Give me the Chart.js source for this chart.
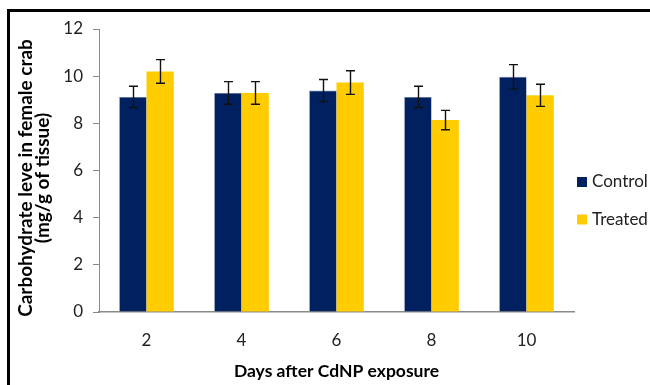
<!DOCTYPE html>
<html>
<head>
<meta charset="utf-8">
<script src="https://cdn.jsdelivr.net/npm/chart.js@4"></script>
<style>
  html, body { margin: 0; padding: 0; background: #fff; overflow: hidden; }
  #wrap { position: relative; width: 650px; height: 385px; }
</style>
</head>
<body>
<div id="wrap"><canvas id="c" width="650" height="385"></canvas></div>
<script>
const categories = ['2', '4', '6', '8', '10'];
const seriesNames = ['Control', 'Treated'];
const controlValues = [9.12, 9.29, 9.39, 9.12, 9.97];
const treatedValues = [10.2, 9.29, 9.73, 8.14, 9.19];
const controlErrors = [0.45, 0.48, 0.47, 0.45, 0.52];
const treatedErrors = [0.50, 0.48, 0.50, 0.41, 0.47];
const yTicks = [0, 2, 4, 6, 8, 10, 12];
const xTitle = 'Days after CdNP exposure';
const yTitleLines = ['Carbohydrate leve in female crab', '(mg/g of tissue)'];

const FONT = 'Lato, "Open Sans", sans-serif';
const AXIS = '#8a8a8a';

const errorBars = {
  id: 'errorBars',
  afterDatasetsDraw(chart) {
    const ctx = chart.ctx;
    const ys = chart.scales.y;
    ctx.save();
    ctx.strokeStyle = '#111';
    ctx.lineWidth = 1.4;
    chart.data.datasets.forEach((ds, i) => {
      const meta = chart.getDatasetMeta(i);
      meta.data.forEach((bar, j) => {
        const v = ds.data[j], e = ds.errors[j];
        const x = Math.round(bar.x) + 0.5;
        const yt = ys.getPixelForValue(v + e);
        const yb = ys.getPixelForValue(v - e);
        ctx.beginPath();
        ctx.moveTo(x, yt); ctx.lineTo(x, yb);
        ctx.moveTo(x - 4.5, yt); ctx.lineTo(x + 4.5, yt);
        ctx.moveTo(x - 4.5, yb); ctx.lineTo(x + 4.5, yb);
        ctx.stroke();
      });
    });
    ctx.restore();
  }
};

const decorations = {
  id: 'decorations',
  afterDraw(chart) {
    const ctx = chart.ctx;
    ctx.save();
    // frame
    ctx.strokeStyle = '#000';
    ctx.lineWidth = 3;
    ctx.beginPath();
    ctx.moveTo(8.5, 385); ctx.lineTo(8.5, 10.5); ctx.lineTo(650, 10.5);
    ctx.stroke();
    // y title
    ctx.fillStyle = '#000';
    ctx.font = 'bold 19px ' + FONT;
    ctx.textAlign = 'center';
    ctx.textBaseline = 'middle';
    ctx.translate(26, 178);
    ctx.rotate(-Math.PI / 2);
    ctx.fillText(yTitleLines[0], 0, 0);
    ctx.fillText(yTitleLines[1], 0, 16.5);
    ctx.restore();
    // legend
    ctx.save();
    ctx.font = '17px ' + FONT;
    ctx.textAlign = 'left';
    ctx.textBaseline = 'middle';
    chart.data.datasets.forEach((ds, i) => {
      const cy = 182 + i * 37.5;
      ctx.fillStyle = ds.backgroundColor;
      ctx.fillRect(577, cy - 5, 10, 10);
      ctx.fillStyle = '#222';
      ctx.fillText(ds.label, 592, cy);
    });
    ctx.restore();
  }
};

new Chart(document.getElementById('c'), {
  type: 'bar',
  data: {
    labels: categories,
    datasets: [
      { label: seriesNames[0], data: controlValues, errors: controlErrors,
        backgroundColor: '#002060', borderColor: '#6f84a8', borderWidth: {left: 0.6, top: 0.6, right: 0, bottom: 0} },
      { label: seriesNames[1], data: treatedValues, errors: treatedErrors,
        backgroundColor: '#ffcc00', borderWidth: 0 }
    ]
  },
  options: {
    responsive: false,
    animation: false,
    devicePixelRatio: 1,
    layout: { padding: { top: 29, right: 76, bottom: 0, left: 0 } },
    datasets: { bar: { categoryPercentage: 0.575, barPercentage: 1.0 } },
    plugins: { legend: { display: false }, tooltip: { enabled: false } },
    scales: {
      x: {
        grid: { display: false, drawTicks: false },
        border: { display: true, color: AXIS, width: 1.5 },
        ticks: { color: '#222', font: { family: FONT, size: 17 }, padding: 18 },
        title: { display: true, text: xTitle, color: '#000', font: { family: FONT, size: 17.5, weight: 'bold' }, padding: { top: 0, bottom: 3 } },
        afterFit(scale) { scale.height = 73; }
      },
      y: {
        min: 0, max: 12,
        afterBuildTicks(scale) { scale.ticks = yTicks.map(v => ({ value: v })); },
        grid: { display: true, drawOnChartArea: false, drawTicks: true, tickLength: 6, color: AXIS, lineWidth: 1 },
        border: { display: true, color: AXIS, width: 1 },
        ticks: { color: '#222', font: { family: FONT, size: 17 }, padding: 10 },
        afterFit(scale) { scale.width = 99; }
      }
    }
  },
  plugins: [errorBars, decorations]
});
</script>
</body>
</html>
